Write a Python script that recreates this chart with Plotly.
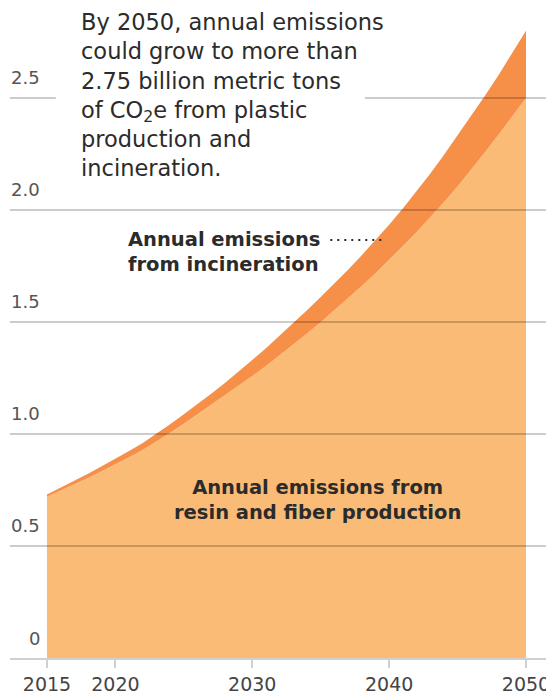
import plotly.graph_objects as go

# ------------------------------------------------------------
# Data (billion metric tons CO2e)
# ------------------------------------------------------------
years = list(range(2015, 2051))

resin_fiber = [
    0.720, 0.747, 0.775, 0.804, 0.834, 0.864, 0.896, 0.929, 0.966, 1.005,
    1.046, 1.088, 1.130, 1.172, 1.215, 1.259, 1.304, 1.351, 1.399, 1.448,
    1.499, 1.552, 1.606, 1.661, 1.718, 1.777, 1.838, 1.901, 1.966, 2.034,
    2.105, 2.180, 2.258, 2.337, 2.418, 2.500,
]

incineration = [
    0.010, 0.013, 0.016, 0.019, 0.022, 0.025, 0.028, 0.031, 0.035, 0.039,
    0.042, 0.045, 0.050, 0.056, 0.063, 0.071, 0.079, 0.087, 0.095, 0.104,
    0.112, 0.119, 0.127, 0.137, 0.147, 0.157, 0.168, 0.181, 0.196, 0.211,
    0.227, 0.240, 0.252, 0.266, 0.282, 0.300,
]

x_ticks = [2015, 2020, 2030, 2040, 2050]
y_ticks = [0, 0.5, 1.0, 1.5, 2.0, 2.5]
y_tick_labels = ["0", "0.5", "1.0", "1.5", "2.0", "2.5"]

LIGHT = "#FABB76"
DARK = "#F68F48"
TEXT = "#2b2b2b"
FONT = "DejaVu Sans"

fig = go.Figure()

fig.add_trace(
    go.Scatter(
        x=years,
        y=resin_fiber,
        mode="lines",
        stackgroup="one",
        line=dict(width=0, color=LIGHT),
        fillcolor=LIGHT,
        name="resin and fiber production",
        hoverinfo="skip",
    )
)

fig.add_trace(
    go.Scatter(
        x=years,
        y=incineration,
        mode="lines",
        stackgroup="one",
        line=dict(width=0, color=DARK),
        fillcolor=DARK,
        name="incineration",
        hoverinfo="skip",
    )
)

# gridlines drawn above the areas
for v in y_ticks[1:]:
    fig.add_shape(
        type="line",
        xref="paper",
        yref="y",
        x0=0,
        x1=1,
        y0=v,
        y1=v,
        line=dict(color="rgba(0,0,0,0.2)", width=2),
        layer="above",
    )

# white knockout behind the headline text
fig.add_shape(
    type="rect",
    xref="paper",
    yref="y",
    x0=0.083,
    x1=0.643,
    y0=2.46,
    y1=2.54,
    fillcolor="white",
    line=dict(width=0),
    layer="above",
)

# y tick labels sit above their gridline
for v, lab in zip(y_ticks, y_tick_labels):
    fig.add_annotation(
        xref="paper",
        yref="y",
        x=0.0575,
        y=v,
        text=lab,
        showarrow=False,
        xanchor="right",
        yanchor="middle",
        yshift=20,
        font=dict(family=FONT, size=18, color="#555"),
    )

fig.add_annotation(
    xref="paper",
    yref="paper",
    x=0.125,
    y=1.02,
    xanchor="left",
    yanchor="top",
    align="left",
    showarrow=False,
    text=(
        "By 2050, annual emissions<br>could grow to more than<br>"
        "2.75 billion metric tons<br>of CO<sub>2</sub>e from plastic<br>"
        "production and<br>incineration."
    ),
    font=dict(family=FONT, size=22.5, color=TEXT),
)

fig.add_annotation(
    xref="x",
    yref="y",
    x=2020.8,
    y=1.866,
    xanchor="left",
    yanchor="top",
    yshift=14,
    align="left",
    showarrow=False,
    text="<b>Annual emissions<br>from incineration</b>",
    font=dict(family=FONT, size=19.5, color=TEXT),
)

fig.add_shape(
    type="line",
    xref="x",
    yref="y",
    x0=2035.7,
    x1=2039.6,
    y0=1.866,
    y1=1.866,
    line=dict(color=TEXT, width=2, dash="2px,5px"),
)

fig.add_annotation(
    xref="x",
    yref="y",
    x=2034.8,
    y=0.705,
    xanchor="center",
    yanchor="middle",
    align="center",
    showarrow=False,
    text="<b>Annual emissions from<br>resin and fiber production</b>",
    font=dict(family=FONT, size=19.5, color=TEXT),
)

fig.update_layout(
    width=554,
    height=686,
    margin=dict(l=2, r=0, t=12, b=36),
    paper_bgcolor="white",
    plot_bgcolor="white",
    showlegend=False,
    xaxis=dict(
        range=[2012.3, 2052.63],
        tickvals=x_ticks,
        ticktext=[str(t) for t in x_ticks],
        ticks="outside",
        ticklen=8,
        tickwidth=2,
        tickcolor="#d0d0d0",
        showgrid=False,
        zeroline=False,
        showline=True,
        linecolor="#d0d0d0",
        linewidth=2,
        tickfont=dict(family=FONT, size=19, color="#444"),
        fixedrange=True,
    ),
    yaxis=dict(
        range=[0, 2.848],
        showticklabels=False,
        showgrid=False,
        zeroline=False,
        fixedrange=True,
    ),
)

fig.write_html("out.html")
